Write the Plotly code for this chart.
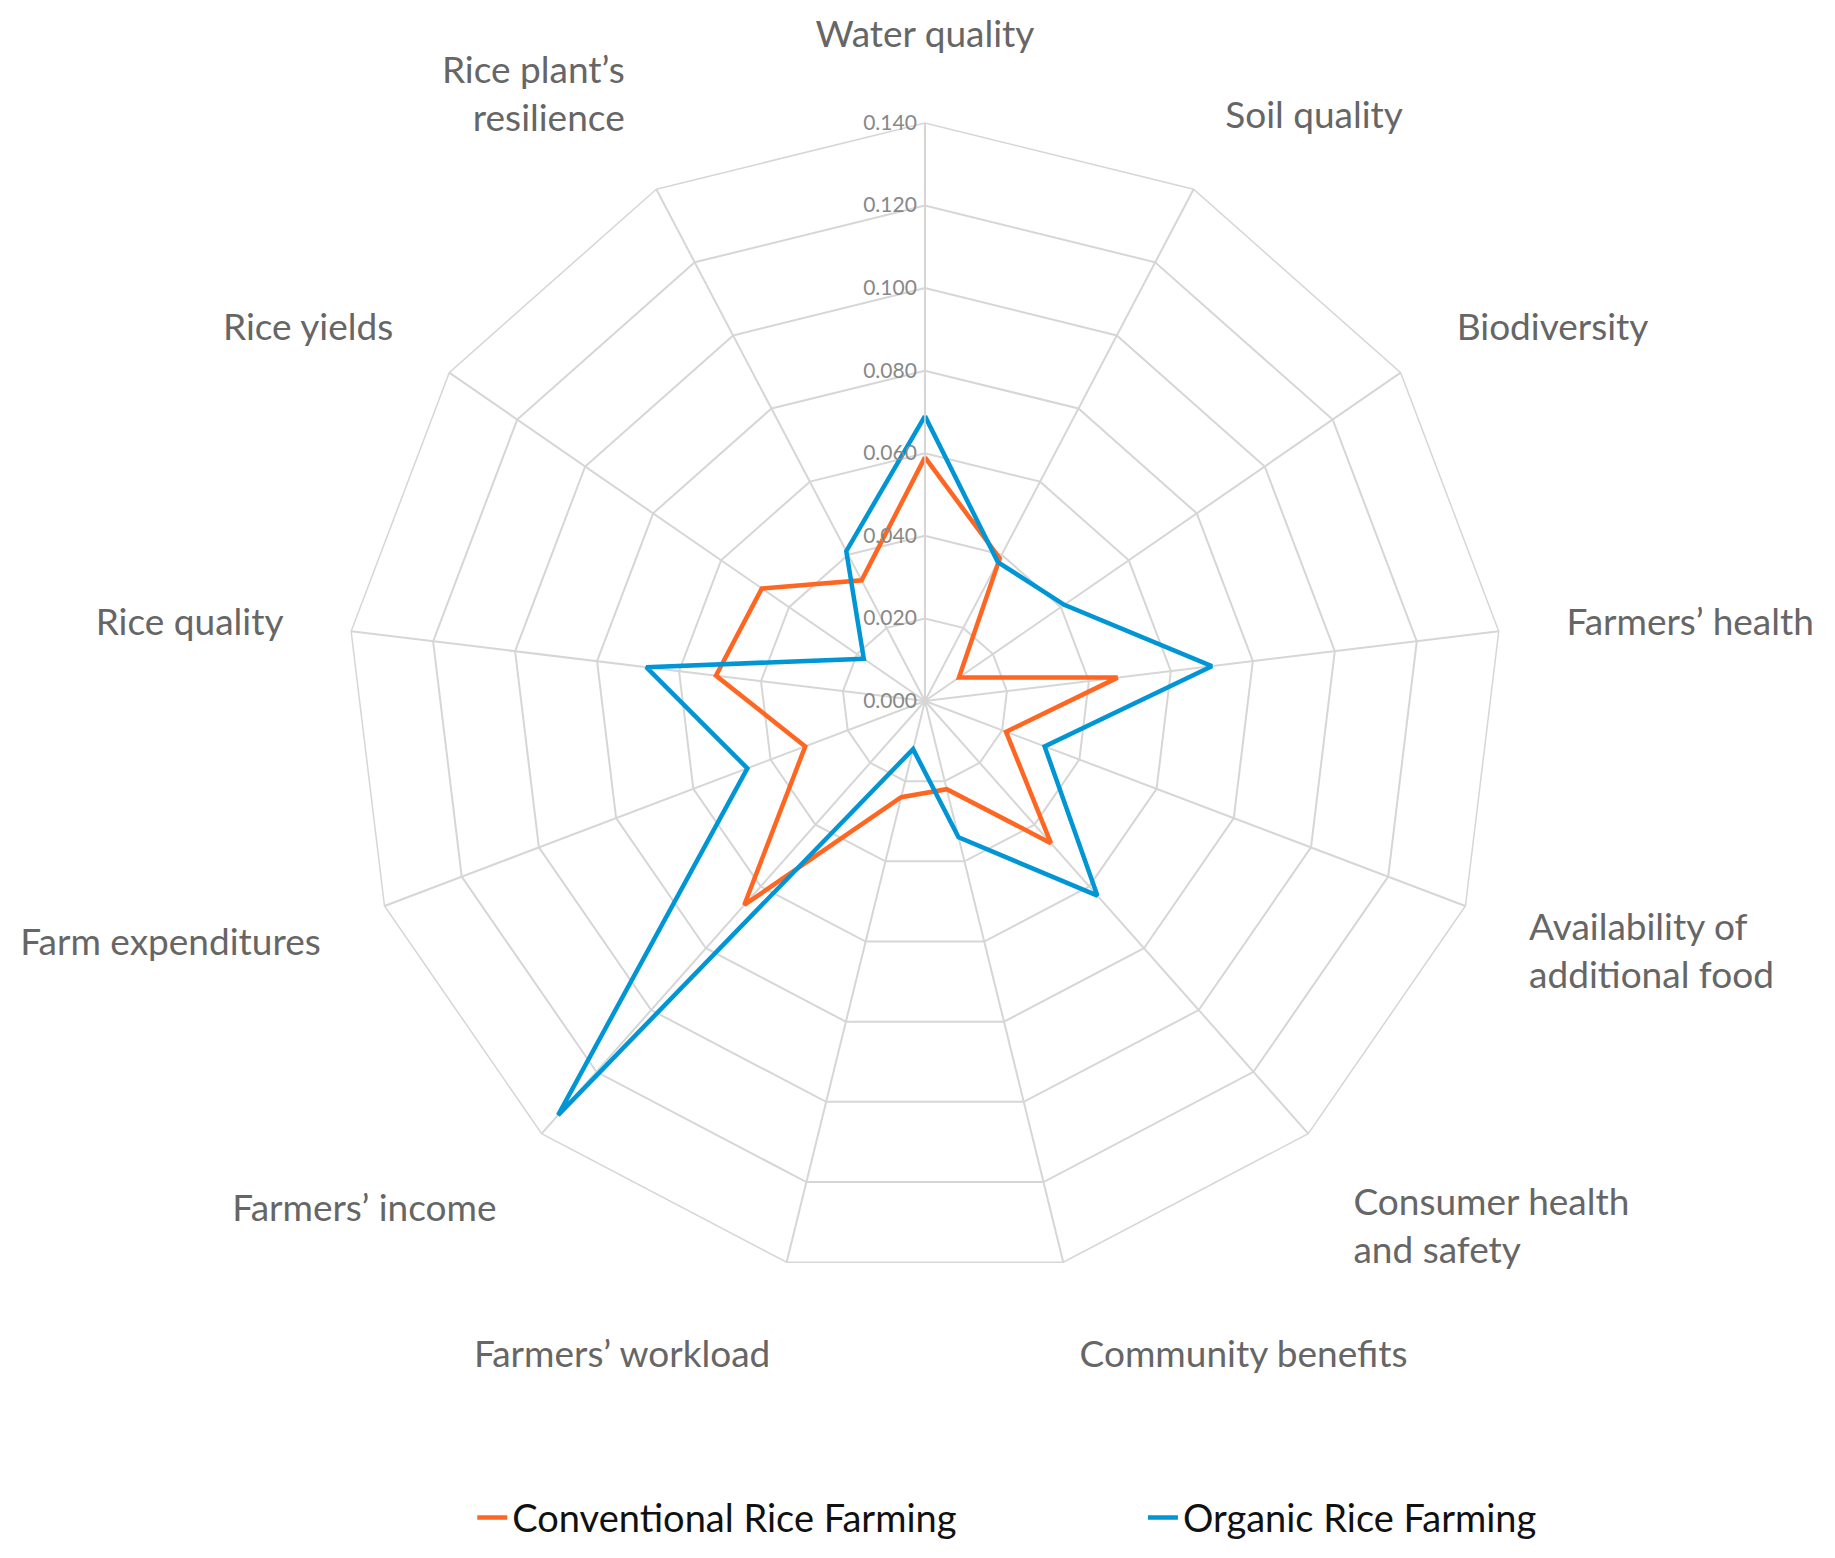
import plotly.graph_objects as go

categories = [
    "Water quality", "Soil quality", "Biodiversity", "Farmers’ health",
    "Availability of additional food", "Consumer health and safety",
    "Community benefits", "Farmers’ workload", "Farmers’ income",
    "Farm expenditures", "Rice quality", "Rice yields",
    "Rice plant’s resilience",
]
tick_labels = [
    "Water quality", "Soil quality", "Biodiversity", "Farmers’ health",
    "Availability of<br>additional food", "Consumer health<br>and safety",
    "Community benefits", "Farmers’ workload", "Farmers’ income",
    "Farm expenditures", "Rice quality", "Rice yields",
    "Rice plant’s<br>resilience",
]
conventional = [0.059, 0.039, 0.010, 0.047, 0.021, 0.046, 0.022,
                0.024, 0.066, 0.031, 0.051, 0.048, 0.033]
organic = [0.069, 0.038, 0.041, 0.070, 0.031, 0.063, 0.034,
           0.012, 0.134, 0.046, 0.068, 0.018, 0.041]
radial_ticks = [0.0, 0.02, 0.04, 0.06, 0.08, 0.10, 0.12, 0.14]

series = [
    ("Conventional Rice Farming", conventional, "rgb(255,102,34)", "legend"),
    ("Organic Rice Farming", organic, "rgb(0,150,214)", "legend2"),
]

grid = "#d6d6d6"
font = "Lato"

fig = go.Figure()
for name, vals, color, leg in series:
    fig.add_trace(go.Scatterpolar(
        r=vals + vals[:1],
        theta=categories + categories[:1],
        mode="lines",
        name=name,
        legend=leg,
        line=dict(color=color, width=4.5),
    ))

legend_style = dict(
    orientation="h",
    xanchor="left",
    y=0.031, yanchor="middle",
    bgcolor="rgba(0,0,0,0)",
    font=dict(size=38, color="#111111", family=font),
)

fig.update_layout(
    width=1835, height=1558,
    margin=dict(l=0, r=0, t=0, b=0),
    paper_bgcolor="white",
    font=dict(family=font, color="#666666"),
    polar=dict(
        domain=dict(x=[0.1847, 0.8147], y=[0.1842, 0.9262]),
        bgcolor="white",
        gridshape="linear",
        radialaxis=dict(
            range=[0, 0.14],
            tickvals=radial_ticks,
            tickformat=".3f",
            angle=90,
            tickangle=90,
            side="counterclockwise",
            showline=True,
            linecolor=grid,
            linewidth=1.5,
            gridcolor=grid,
            gridwidth=1.5,
            ticks="",
            tickfont=dict(size=21, color="#888888", family=font),
        ),
        angularaxis=dict(
            direction="clockwise",
            rotation=90,
            tickmode="array",
            tickvals=categories,
            ticktext=tick_labels,
            ticks="outside",
            ticklen=60,
            tickcolor="rgba(0,0,0,0)",
            showline=True,
            linecolor=grid,
            linewidth=1.5,
            gridcolor=grid,
            gridwidth=1.5,
            tickfont=dict(size=37, color="#666666", family=font),
        ),
    ),
    showlegend=True,
    legend=dict(legend_style, x=0.253),
    legend2=dict(legend_style, x=0.6185),
)

fig.write_html("out.html")
